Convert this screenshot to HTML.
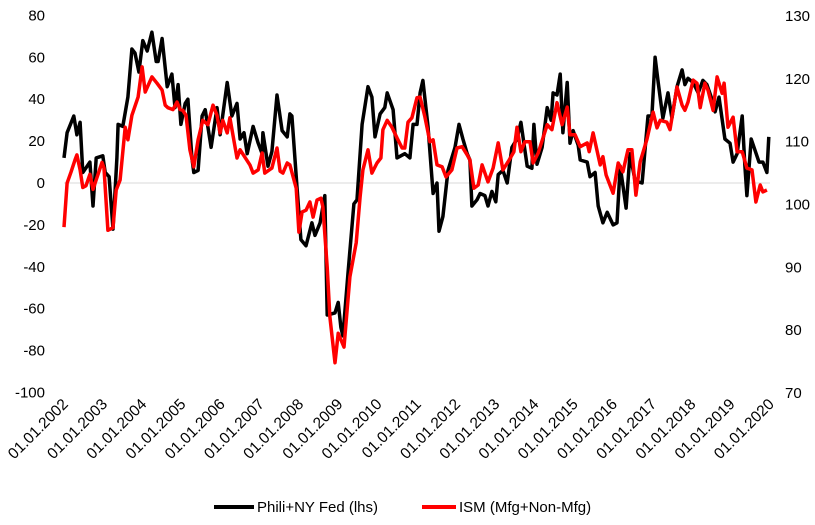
<!DOCTYPE html>
<html><head><meta charset="utf-8"><style>
html,body{margin:0;padding:0;background:#fff;}
svg text{font-family:"Liberation Sans",sans-serif;fill:#000;}
</style></head><body>
<svg id="chart" width="815" height="520" xmlns="http://www.w3.org/2000/svg">
<g id="axes"></g>
<g id="series"></g>
<g id="legend">
  <line x1="214" y1="507" x2="254" y2="507" stroke="#000" stroke-width="4"/>
  <text x="257" y="512" font-size="15">Phili+NY Fed (lhs)</text>
  <line x1="422" y1="507" x2="456" y2="507" stroke="#f00" stroke-width="4"/>
  <text x="459" y="512" font-size="15">ISM (Mfg+Non-Mfg)</text>
</g>
</svg>
<script>
const leftTicks=[80,60,40,20,0,-20,-40,-60,-80,-100];
const rightTicks=[130,120,110,100,90,80,70];
const xLabels=["01.01.2002","01.01.2003","01.01.2004","01.01.2005","01.01.2006","01.01.2007","01.01.2008","01.01.2009","01.01.2010","01.01.2011","01.01.2012","01.01.2013","01.01.2014","01.01.2015","01.01.2016","01.01.2017","01.01.2018","01.01.2019","01.01.2020"];
const philiDates=[2002.00,2002.08,2002.25,2002.33,2002.41,2002.48,2002.66,2002.74,2002.82,2002.99,2003.05,2003.15,2003.25,2003.35,2003.38,2003.50,2003.63,2003.73,2003.81,2003.91,2004.01,2004.12,2004.24,2004.35,2004.40,2004.50,2004.63,2004.75,2004.83,2004.91,2004.98,2005.09,2005.16,2005.26,2005.31,2005.42,2005.52,2005.60,2005.75,2005.90,2005.98,2006.16,2006.28,2006.41,2006.49,2006.59,2006.67,2006.82,2006.95,2007.05,2007.07,2007.20,2007.30,2007.43,2007.56,2007.69,2007.76,2007.81,2007.94,2008.04,2008.17,2008.32,2008.40,2008.53,2008.65,2008.71,2008.91,2008.99,2009.06,2009.11,2009.24,2009.39,2009.47,2009.60,2009.75,2009.85,2009.93,2010.06,2010.18,2010.24,2010.39,2010.49,2010.69,2010.82,2010.90,2011.00,2011.08,2011.15,2011.28,2011.41,2011.51,2011.56,2011.66,2011.79,2011.97,2012.07,2012.17,2012.28,2012.35,2012.40,2012.53,2012.61,2012.73,2012.81,2012.91,2013.01,2013.07,2013.19,2013.30,2013.42,2013.55,2013.65,2013.81,2013.93,2013.98,2014.06,2014.19,2014.32,2014.42,2014.47,2014.57,2014.65,2014.72,2014.83,2014.90,2014.98,2015.11,2015.16,2015.34,2015.41,2015.54,2015.62,2015.74,2015.85,2016.00,2016.10,2016.18,2016.33,2016.43,2016.56,2016.74,2016.89,2016.99,2017.07,2017.15,2017.27,2017.40,2017.50,2017.63,2017.76,2017.83,2017.91,2018.04,2018.17,2018.29,2018.39,2018.50,2018.60,2018.70,2018.85,2018.98,2019.06,2019.16,2019.29,2019.36,2019.41,2019.52,2019.72,2019.82,2019.92,2019.97];
const philiValues=[12,24,32,23,29,5,10,-11,12,13,5,3,-22,12,28,27,41,64,62,53,68,63,72,58,58,69,46,52,36,47,28,38,40,12,5,6,32,35,17,36,23,48,32,38,21,24,14,27,19,14,24,8,15,42,25,22,33,32,-2,-27,-30,-19,-25,-19,-6,-63,-62,-57,-69,-73,-43,-10,-8,28,46,41,22,33,36,43,35,12,14,12,28,28,43,49,27,-5,0,-23,-16,6,17,28,21,14,11,-11,-8,-5,-6,-11,-4,-9,4,6,0,17,21,29,8,7,28,9,17,36,30,43,42,52,24,48,19,25,18,11,10,3,5,-11,-19,-14,-20,-19,8,-12,14,1,0,32,32,60,48,31,43,31,46,54,47,50,48,43,49,47,41,34,41,21,19,10,14,32,8,-6,21,10,10,5,22];
const ismDates=[2002.00,2002.08,2002.18,2002.28,2002.33,2002.41,2002.48,2002.56,2002.66,2002.74,2002.97,2003.02,2003.12,2003.25,2003.33,2003.43,2003.56,2003.63,2003.73,2003.89,2003.99,2004.07,2004.24,2004.37,2004.50,2004.58,2004.65,2004.78,2004.88,2004.96,2005.03,2005.11,2005.21,2005.31,2005.42,2005.54,2005.67,2005.80,2005.90,2005.98,2006.05,2006.16,2006.23,2006.41,2006.49,2006.74,2006.82,2006.95,2007.05,2007.12,2007.30,2007.43,2007.51,2007.58,2007.69,2007.76,2007.92,2007.99,2008.07,2008.17,2008.27,2008.35,2008.45,2008.55,2008.60,2008.71,2008.78,2008.91,2008.99,2009.14,2009.29,2009.45,2009.55,2009.62,2009.75,2009.85,2009.98,2010.08,2010.13,2010.24,2010.36,2010.49,2010.62,2010.69,2010.77,2010.87,2011.00,2011.08,2011.20,2011.33,2011.41,2011.51,2011.64,2011.74,2011.89,2012.02,2012.15,2012.28,2012.35,2012.45,2012.56,2012.66,2012.81,2012.94,2013.07,2013.19,2013.35,2013.47,2013.55,2013.65,2013.75,2013.88,2013.96,2014.09,2014.32,2014.44,2014.57,2014.70,2014.83,2014.90,2015.03,2015.16,2015.34,2015.39,2015.49,2015.67,2015.74,2015.82,2016.00,2016.13,2016.25,2016.38,2016.48,2016.58,2016.69,2016.86,2017.02,2017.12,2017.20,2017.37,2017.45,2017.63,2017.76,2017.83,2017.91,2018.04,2018.14,2018.22,2018.34,2018.42,2018.55,2018.65,2018.78,2018.83,2018.93,2019.06,2019.16,2019.29,2019.41,2019.54,2019.64,2019.75,2019.82,2019.92];
const ismValues=[96.4,103.4,105.2,107.1,107.9,105.5,102.7,103,104.8,102.4,106.7,105.8,95.9,96.3,102.3,103.9,112.3,110.3,114.2,117.1,121.9,117.9,120.3,119.3,118.2,115.8,115.4,115.1,116.3,115.1,115,114.2,108.7,106,110.3,113.4,112.7,115.8,114.2,111.4,113.4,111.4,113.8,107.4,108.7,106.3,105,105.5,108.2,105,105.8,109,105.3,105,106.6,106.3,102.6,95.6,98.8,99.1,100.4,98,100.7,101,99.6,90,82.1,74.8,79.5,77.3,88.5,93.9,101.2,105.5,108.7,105,106.6,107.4,111.9,113.4,112.3,110.6,109,109,113.1,113.8,117,117.1,114,110,110.3,106.3,106,104.4,105.5,109,109.2,107.9,107.1,102.6,103.1,106.3,103.6,105.8,109.8,105.5,107.1,108.4,112.3,108.4,110,110,106.6,108.2,112.7,111.9,116.2,112.7,115.5,111.1,111.1,109.2,109.8,108.4,111.4,106.3,107.6,104.7,101.8,106.6,105.2,108.7,108.7,101.5,106.8,110.3,114.7,112.2,113.4,113.1,111.9,118.7,115.8,115,116.3,119.8,119.3,115.4,119.3,118.2,115,120.3,117.7,119.3,112.3,113.9,108.4,108.4,105.8,105.5,100.4,103.1,102,102.3];

const NS="http://www.w3.org/2000/svg";
const X0=64,X1=770,T0=2002,T1=2020;
const YL=v=>183-(v)*(377/180);
const YR=v=>393-(v-70)*(377/60);
const XT=t=>X0+(t-T0)*(X1-X0)/(T1-T0);
const axes=document.getElementById('axes');
const series=document.getElementById('series');
function mk(tag,attrs,parent){const e=document.createElementNS(NS,tag);for(const k in attrs)e.setAttribute(k,attrs[k]);parent.appendChild(e);return e;}

const zl=mk('line',{x1:X0,x2:X1,y1:YL(0),y2:YL(0),stroke:'#d9d9d9','stroke-width':1},axes);



leftTicks.forEach(v=>{
  const t=mk('text',{x:45,y:YL(v)+5,'text-anchor':'end','font-size':15},axes);
  t.textContent=v;
  
  
});
rightTicks.forEach(v=>{
  const t=mk('text',{x:785,y:YR(v)+5,'font-size':15},axes);
  t.textContent=v;
  
  
});
xLabels.forEach((s,i)=>{
  const x=XT(T0+i)+5,y=405;
  const t=mk('text',{x:x,y:y,'text-anchor':'end','font-size':15.5,transform:`rotate(-45 ${x} ${y})`},axes);
  t.textContent=s;
  
  
});

function path(dates,vals,yf,color){
  let d='';
  dates.forEach((t,i)=>{d+=(i?'L':'M')+XT(t).toFixed(1)+' '+yf(vals[i]).toFixed(1);});
  return mk('path',{d:d,fill:'none',stroke:color,'stroke-width':3.5,'stroke-linejoin':'round'},series);
}
const pb=path(philiDates,philiValues,YL,'#000');


const pr=path(ismDates,ismValues,YR,'#f00');


</script>
</body></html>
